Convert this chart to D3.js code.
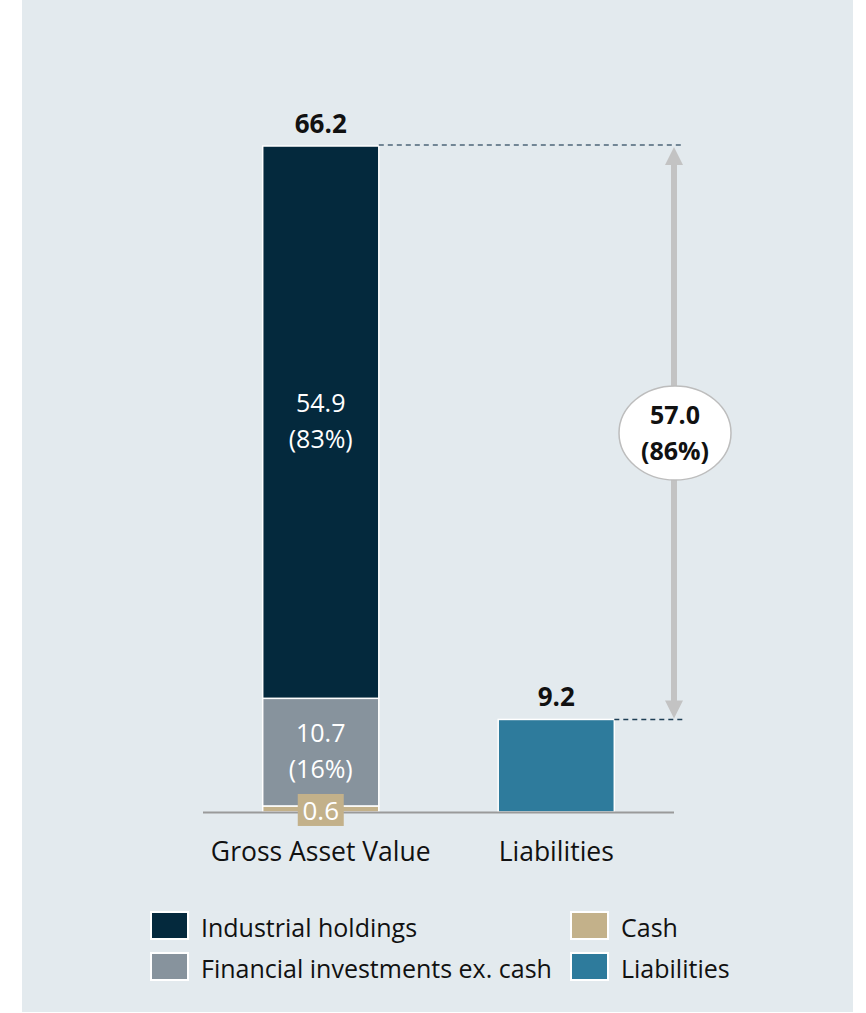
<!DOCTYPE html>
<html>
<head>
<meta charset="utf-8">
<script src="https://cdn.jsdelivr.net/npm/d3@7"></script>
<style>
  body { margin: 0; background: #fff; }
  svg { display: block; font-family: "Open Sans", "Noto Sans", sans-serif; }
</style>
</head>
<body>
<script>
// data
const categories = ["Gross Asset Value", "Liabilities"];
const segmentNames = ["Cash", "Financial investments ex. cash", "Industrial holdings"];
const gavValues = [0.6, 10.7, 54.9];
const gavShares = [null, "16%", "83%"];
const liabilitiesValue = 9.2;
const gavTotal = 66.2;
const netValue = 57.0;
const netShare = "86%";

const legendItems = ["Industrial holdings", "Cash", "Financial investments ex. cash", "Liabilities"];
const colors = {
  "Industrial holdings": "#04293d",
  "Financial investments ex. cash": "#87939d",
  "Cash": "#c3b18a",
  "Liabilities": "#2e7b9c"
};

const W = 866, H = 1013;
const svg = d3.select("body").append("svg").attr("width", W).attr("height", H);

// panel background
svg.append("rect").attr("x", 22).attr("y", 0).attr("width", 831).attr("height", 1012).attr("fill", "#e3eaee");

const x = d3.scaleBand()
  .domain(categories)
  .range([203, 674])
  .paddingInner(0.507)
  .paddingOuter(0.2535);

const y = d3.scaleLinear()
  .domain([0, gavTotal])
  .range([812, 146]);

// stacked GAV bar
let acc = 0;
const stack = gavValues.map((v, i) => {
  const s = { name: segmentNames[i], y0: acc, y1: acc + v, value: v, share: gavShares[i] };
  acc += v;
  return s;
});

const gx = x("Gross Asset Value");
svg.append("g").selectAll("rect")
  .data(stack)
  .enter().append("rect")
  .attr("x", gx)
  .attr("y", d => y(d.y1))
  .attr("width", x.bandwidth())
  .attr("height", d => y(d.y0) - y(d.y1))
  .attr("fill", d => colors[d.name])
  .attr("stroke", "#fff")
  .attr("stroke-width", 1.5);

// liabilities bar
const lx = x("Liabilities");
svg.append("rect")
  .attr("x", lx)
  .attr("y", y(liabilitiesValue))
  .attr("width", x.bandwidth())
  .attr("height", y(0) - y(liabilitiesValue))
  .attr("fill", colors["Liabilities"])
  .attr("stroke", "#fff")
  .attr("stroke-width", 1.5);

// baseline
svg.append("line")
  .attr("x1", 203).attr("x2", 674)
  .attr("y1", y(0) + 0.5).attr("y2", y(0) + 0.5)
  .attr("stroke", "#9a9a9a").attr("stroke-width", 2);

// segment labels (value and share as two separate texts)
const cx = gx + x.bandwidth() / 2;
stack.filter(d => d.share).forEach(d => {
  const mid = (y(d.y0) + y(d.y1)) / 2;
  svg.append("text")
    .attr("x", cx).attr("y", mid - 10)
    .attr("text-anchor", "middle").attr("fill", "#fff").attr("font-size", 25)
    .text(d.value.toFixed(1));
  svg.append("text")
    .attr("x", cx).attr("y", mid + 26)
    .attr("text-anchor", "middle").attr("fill", "#fff").attr("font-size", 25)
    .text("(" + d.share + ")");
});

// cash label in tan box
const cash = stack[0];
svg.append("rect")
  .attr("x", cx - 23).attr("y", y(cash.y1) - 12)
  .attr("width", 46).attr("height", 32)
  .attr("fill", colors["Cash"]);
svg.append("text")
  .attr("x", cx).attr("y", y(cash.y1) + 14)
  .attr("text-anchor", "middle")
  .attr("fill", "#fff")
  .attr("font-size", 26)
  .text(cash.value.toFixed(1));

// totals
svg.append("text")
  .attr("x", cx).attr("y", y(gavTotal) - 13)
  .attr("text-anchor", "middle").attr("font-size", 26).attr("font-weight", "bold")
  .attr("fill", "#111")
  .text(gavTotal.toFixed(1));
svg.append("text")
  .attr("x", lx + x.bandwidth() / 2).attr("y", y(liabilitiesValue) - 13)
  .attr("text-anchor", "middle").attr("font-size", 26).attr("font-weight", "bold")
  .attr("fill", "#111")
  .text(liabilitiesValue.toFixed(1));

// dashed guides
const ax = 674;
svg.append("line")
  .attr("x1", gx + x.bandwidth()).attr("x2", 684)
  .attr("y1", y(gavTotal) - 1).attr("y2", y(gavTotal) - 1)
  .attr("stroke", "#4d6578").attr("stroke-width", 1.5).attr("stroke-dasharray", "5,4");
svg.append("line")
  .attr("x1", lx + x.bandwidth()).attr("x2", 684)
  .attr("y1", y(liabilitiesValue)).attr("y2", y(liabilitiesValue))
  .attr("stroke", "#1e3f55").attr("stroke-width", 1.5).attr("stroke-dasharray", "5,4");

// double arrow
const arrowTop = y(gavTotal) + 1, arrowBot = y(liabilitiesValue) - 1;
svg.append("line")
  .attr("x1", ax).attr("x2", ax)
  .attr("y1", arrowTop + 16).attr("y2", arrowBot - 16)
  .attr("stroke", "#c3c3c3").attr("stroke-width", 6);
svg.append("path")
  .attr("d", `M${ax},${arrowTop} L${ax + 9},${arrowTop + 18} L${ax - 9},${arrowTop + 18} Z`)
  .attr("fill", "#c3c3c3");
svg.append("path")
  .attr("d", `M${ax},${arrowBot} L${ax + 9},${arrowBot - 18} L${ax - 9},${arrowBot - 18} Z`)
  .attr("fill", "#c3c3c3");

// bubble
const by = 433;
svg.append("ellipse")
  .attr("cx", ax + 1).attr("cy", by).attr("rx", 56).attr("ry", 47)
  .attr("fill", "#fff").attr("stroke", "#bdbdbd").attr("stroke-width", 1.5);
svg.append("text")
  .attr("x", ax + 1).attr("y", by - 9)
  .attr("text-anchor", "middle").attr("font-size", 25).attr("font-weight", "bold").attr("fill", "#111")
  .text(netValue.toFixed(1));
svg.append("text")
  .attr("x", ax + 1).attr("y", by + 27)
  .attr("text-anchor", "middle").attr("font-size", 25).attr("font-weight", "bold").attr("fill", "#111")
  .text("(" + netShare + ")");

// category axis labels
svg.append("g").selectAll("text")
  .data(categories)
  .enter().append("text")
  .attr("x", d => x(d) + x.bandwidth() / 2)
  .attr("y", 861)
  .attr("text-anchor", "middle")
  .attr("font-size", 26.5)
  .attr("fill", "#111")
  .text(d => d);

// legend
const legendPos = [[151, 912], [571, 912], [151, 953], [571, 953]];
const lg = svg.append("g").selectAll("g")
  .data(legendItems)
  .enter().append("g")
  .attr("transform", (d, i) => `translate(${legendPos[i][0]},${legendPos[i][1]})`);
lg.append("rect")
  .attr("width", 37).attr("height", 27)
  .attr("fill", d => colors[d])
  .attr("stroke", "#fff").attr("stroke-width", 2);
lg.append("text")
  .attr("x", 50).attr("y", 25)
  .attr("font-size", 25)
  .attr("fill", "#111")
  .text(d => d);
</script>
</body>
</html>
